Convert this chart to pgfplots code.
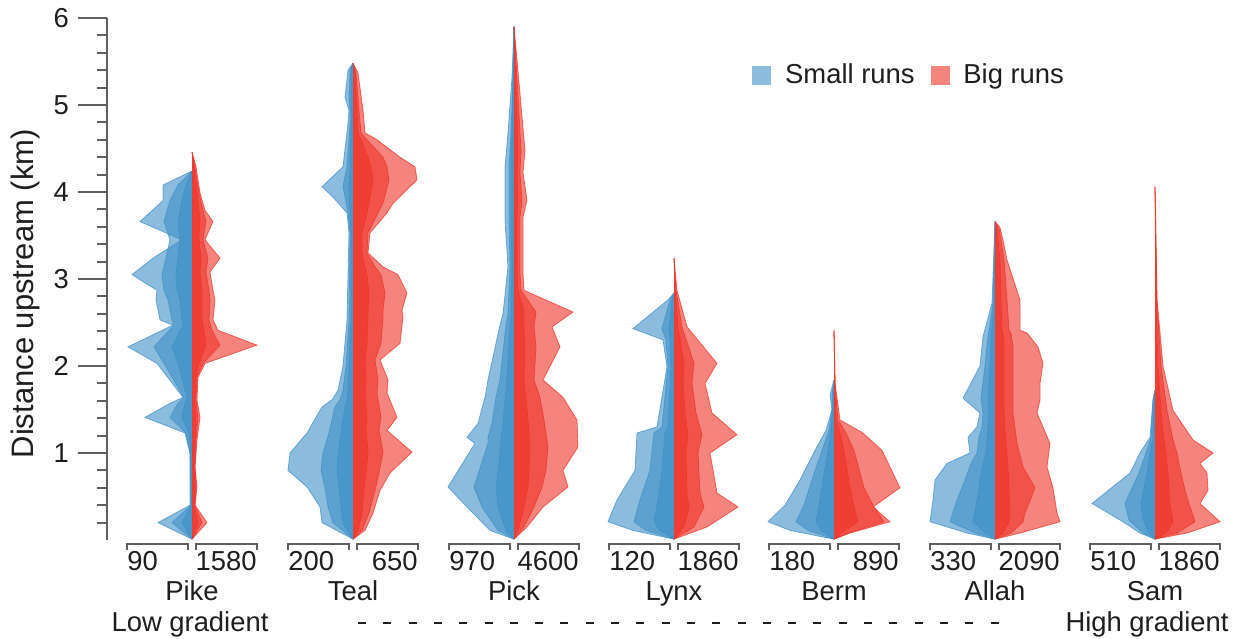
\documentclass[border=0pt]{standalone}
\usepackage{pgfplots}
\pgfplotsset{compat=1.18}
\usepackage{pgfplotstable}
\usepackage{fontspec}
\setmainfont{Liberation Sans}

\definecolor{cB}{RGB}{61,143,198}
\definecolor{cR}{RGB}{238,50,40}
\definecolor{legB}{RGB}{139,188,221}
\definecolor{legR}{RGB}{244,132,126}
\definecolor{axc}{RGB}{95,95,95}
\definecolor{txt}{RGB}{30,30,30}

% columns: y (km), o/m/n = half-width (px) of outer/middle/inner layers
\pgfplotstableread{
y o m n
4.46 0 0 0
4.29 4 3 2
3.99 8 7 5
3.79 13 11 7
3.66 21 14 8
3.53 16 12 7
3.45 13 11 7
3.24 28 16 9
3.08 18 14 8
2.87 21 17 10
2.76 23 18 10
2.53 21 17 10
2.41 26 20 12
2.24 65 28 14
2.03 13 11 7
1.87 6 5 4
1.61 5 4 3
1.41 8 6 4
1.15 5 4 3
0.84 3 3 2
0.61 5 4 3
0.40 3 3 2
0.20 15 10 6
0.01 0 0 0
}\PikeR
\pgfplotstableread{
y o m n
4.24 0 0 0
4.08 29 14 6
3.90 29 22 10
3.66 52 28 14
3.45 10 22 12
3.24 39 26 14
3.05 60 30 16
2.87 35 28 15
2.76 36 24 12
2.53 32 20 10
2.47 19 18 9
2.22 64 38 20
2.03 35 28 14
1.64 9 8 5
1.57 22 14 7
1.41 47 22 10
1.23 7 6 3
1.00 2 2 1
0.40 2 1 1
0.20 34 20 10
0.01 0 0 0
}\PikeB
\pgfplotstableread{
y o m n
5.48 0 0 0
5.40 5 3 2
5.09 8 4 2
4.94 4 3 2
4.79 5 3 2
4.29 10 6 3
4.06 31 10 4
3.94 20 8 4
3.76 6 5 3
3.53 4 3 2
2.53 6 4 2
2.00 10 7 4
1.72 15 10 5
1.61 21 13 6
1.53 31 18 8
1.23 46 24 12
1.00 63 30 15
0.80 65 32 16
0.61 46 28 14
0.38 33 25 12
0.20 31 20 10
0.01 0 0 0
}\TealB
\pgfplotstableread{
y o m n
5.48 0 0 0
5.37 5 3 2
4.94 10 6 4
4.68 12 8 5
4.60 24 14 8
4.40 47 30 15
4.29 62 34 18
4.14 64 36 20
3.87 40 30 16
3.76 34 25 14
3.53 17 15 9
3.30 15 14 9
3.14 30 22 12
3.05 45 28 14
2.84 54 32 16
2.64 49 30 15
2.56 50 30 15
2.26 47 28 14
2.07 27 22 12
1.84 35 25 13
1.69 34 24 12
1.41 44 28 14
1.26 34 26 13
1.01 59 30 15
0.77 37 26 13
0.57 27 22 11
0.31 20 16 9
0.11 12 9 5
0.01 0 0 0
}\TealR
\pgfplotstableread{
y o m n
5.90 0 0 0
5.32 2 1 1
4.68 6 3 2
4.29 9 5 3
3.68 9 5 3
3.14 6 4 2
2.60 11 6 3
2.47 14 8 4
1.84 26 14 7
1.64 29 18 9
1.34 36 22 11
1.18 47 26 13
1.11 39 26 13
0.61 66 40 18
0.38 47 32 16
0.11 24 16 8
0.01 0 0 0
}\PickB
\pgfplotstableread{
y o m n
5.90 0 0 0
5.52 3 2 1
4.48 11 7 4
4.22 9 6 3
3.91 13 8 4
3.71 9 6 3
3.07 9 6 3
2.87 10 7 4
2.62 59 22 10
2.45 38 20 10
2.22 46 22 11
1.84 29 20 10
1.64 49 26 12
1.38 63 30 14
1.07 64 34 16
0.80 49 32 15
0.61 54 28 14
0.38 29 20 10
0.15 13 10 5
0.01 0 0 0
}\PickR
\pgfplotstableread{
y o m n
2.84 0 0 0
2.76 6 4 2
2.43 41 12 5
2.30 11 8 4
1.99 7 6 3
1.30 17 12 6
1.23 37 20 9
0.80 39 24 12
0.46 57 34 16
0.21 66 40 20
0.11 41 28 14
0.01 0 0 0
}\LynxB
\pgfplotstableread{
y o m n
3.24 0 0 0
2.87 3 2 1
2.45 13 8 4
2.03 43 20 10
1.80 31 18 9
1.46 38 22 11
1.21 63 28 14
1.00 36 24 12
0.54 43 26 13
0.38 64 30 15
0.15 33 20 10
0.01 0 0 0
}\LynxR
\pgfplotstableread{
y o m n
1.84 0 0 0
1.67 4 2 1
1.50 2 2 1
1.26 8 5 3
1.03 19 12 6
0.69 34 22 11
0.40 49 30 15
0.21 66 38 18
0.11 44 26 13
0.01 0 0 0
}\BermB
\pgfplotstableread{
y o m n
2.41 0 0 0
1.80 1 1 1
1.38 6 4 2
1.23 29 12 6
1.03 48 20 10
0.60 66 30 16
0.38 39 40 20
0.21 56 50 24
0.08 16 14 7
0.01 0 0 0
}\BermR
\pgfplotstableread{
y o m n
3.66 0 0 0
2.72 3 2 1
2.34 12 7 4
2.00 15 10 5
1.63 32 14 7
1.46 15 12 6
1.30 18 13 7
1.18 27 16 8
1.00 25 18 9
0.88 48 24 12
0.69 60 30 15
0.46 62 38 18
0.21 65 45 22
0.08 28 20 10
0.01 0 0 0
}\AllahB
\pgfplotstableread{
y o m n
3.66 0 0 0
3.59 5 4 2
3.45 8 6 3
3.22 12 9 5
2.76 25 12 6
2.41 25 14 7
2.38 32 16 8
2.22 43 18 9
2.03 48 18 9
1.80 45 18 9
1.61 45 18 9
1.46 42 18 9
1.11 55 22 11
0.84 52 28 13
0.60 58 40 14
0.31 62 30 15
0.21 65 28 14
0.08 25 16 8
0.01 0 0 0
}\AllahR
\pgfplotstableread{
y o m n
1.72 0 0 0
1.61 2 2 1
1.18 5 4 2
1.00 15 9 5
0.77 25 16 8
0.42 63 30 14
0.23 35 26 12
0.08 15 12 6
0.01 0 0 0
}\SamB
\pgfplotstableread{
y o m n
4.06 0 0 0
2.76 2 2 1
2.00 8 6 3
1.49 18 12 6
1.15 38 18 9
1.00 58 22 11
0.88 45 24 12
0.77 52 26 13
0.57 53 30 14
0.42 45 34 15
0.21 65 40 18
0.08 32 22 11
0.01 0 0 0
}\SamR

\newcommand{\side}[4]{%
  \addplot[forget plot, fill=#4, fill opacity=0.6, draw=#4, draw opacity=0.7, line width=0.4pt]
    table[x expr=#2#3\thisrow{o}, y=y]{#1};
  \addplot[forget plot, fill=#4, fill opacity=0.6, draw=#4, draw opacity=0.7, line width=0.4pt]
    table[x expr=#2#3\thisrow{m}, y=y]{#1};
  \addplot[forget plot, fill=#4, fill opacity=0.6, draw=#4, draw opacity=0.7, line width=0.4pt]
    table[x expr=#2#3\thisrow{n}, y=y]{#1};
}
\newcommand{\grp}[4]{%
  \draw[axc, line width=1pt] (axis cs:#1-65,-0.115) -- (axis cs:#1-65,-0.046) -- (axis cs:#1-4,-0.046) -- (axis cs:#1-4,-0.115);
  \draw[axc, line width=1pt] (axis cs:#1+4,-0.115) -- (axis cs:#1+4,-0.046) -- (axis cs:#1+65,-0.046) -- (axis cs:#1+65,-0.115);
  \node[anchor=base west, inner sep=0pt] at (axis cs:#1-65,-0.356) {#2};
  \node[anchor=base east, inner sep=0pt] at (axis cs:#1+65,-0.356) {#3};
  \node[anchor=base, inner sep=0pt] at (axis cs:#1,-0.701) {#4};
}

\begin{document}
\begin{tikzpicture}[font=\fontsize{13.7}{16}\selectfont, text=txt]
\useasboundingbox (0,0) rectangle (621.5pt,319pt);
\begin{axis}[
  at={(53.5pt,49pt)}, anchor=south west,
  scale only axis, width=560pt, height=261pt,
  xmin=107, xmax=1227, ymin=0, ymax=6,
  axis x line=none, axis y line*=left,
  axis line style={axc, line width=1pt, -},
  ytick={1,2,3,4,5,6},
  minor ytick={0.2,0.4,0.6,0.8,1.2,1.4,1.6,1.8,2.2,2.4,2.6,2.8,3.2,3.4,3.6,3.8,4.2,4.4,4.6,4.8,5.2,5.4,5.6,5.8},
  tick align=outside,
  major tick length=14.5pt, minor tick length=5pt,
  major tick style={axc, line width=1pt},
  minor tick style={axc, line width=1pt},
  /pgf/number format/assume math mode=true,
  yticklabel style={font=\fontsize{13.7}{16}\selectfont, text=txt, anchor=east, xshift=-1pt},
  clip=false,
  legend style={at={(axis cs:752,5.34)}, anchor=west, draw=none, fill=none,
    legend columns=2, inner sep=0pt, font=\fontsize{13.7}{16}\selectfont, text=txt,
    /tikz/every even column/.append style={column sep=6pt}},
]
\addlegendimage{legend image code/.code={\fill[legB] (0pt,-4.5pt) rectangle (9pt,4.5pt); \path (14pt,0pt);}}
\addlegendentry{Small runs}
\addlegendimage{legend image code/.code={\fill[legR] (0pt,-4.5pt) rectangle (9pt,4.5pt); \path (14pt,0pt);}}
\addlegendentry{Big runs}

\side{\PikeB}{192}{-}{cB}
\side{\PikeR}{192}{+}{cR}
\side{\TealB}{353}{-}{cB}
\side{\TealR}{353}{+}{cR}
\side{\PickB}{514}{-}{cB}
\side{\PickR}{514}{+}{cR}
\side{\LynxB}{674}{-}{cB}
\side{\LynxR}{674}{+}{cR}
\side{\BermB}{834}{-}{cB}
\side{\BermR}{834}{+}{cR}
\side{\AllahB}{995}{-}{cB}
\side{\AllahR}{995}{+}{cR}
\side{\SamB}{1155}{-}{cB}
\side{\SamR}{1155}{+}{cR}

\grp{192}{90}{1580}{Pike}
\grp{353}{200}{650}{Teal}
\grp{514}{970}{4600}{Pick}
\grp{674}{120}{1860}{Lynx}
\grp{834}{180}{890}{Berm}
\grp{995}{330}{2090}{Allah}
\grp{1155}{510}{1860}{Sam}

\node[anchor=base, inner sep=0pt] at (axis cs:190,-1.046) {Low gradient};
\node[anchor=base, inner sep=0pt] at (axis cs:1147,-1.046) {High gradient};
\draw[txt, line width=1pt, dash pattern=on 4pt off 8.65pt] (axis cs:358,-0.954) -- (axis cs:1000,-0.954);

\node[rotate=90, inner sep=0pt, font=\fontsize{15.5}{18}\selectfont] at (axis cs:25,2.83) {Distance upstream (km)};
\end{axis}
\end{tikzpicture}
\end{document}
